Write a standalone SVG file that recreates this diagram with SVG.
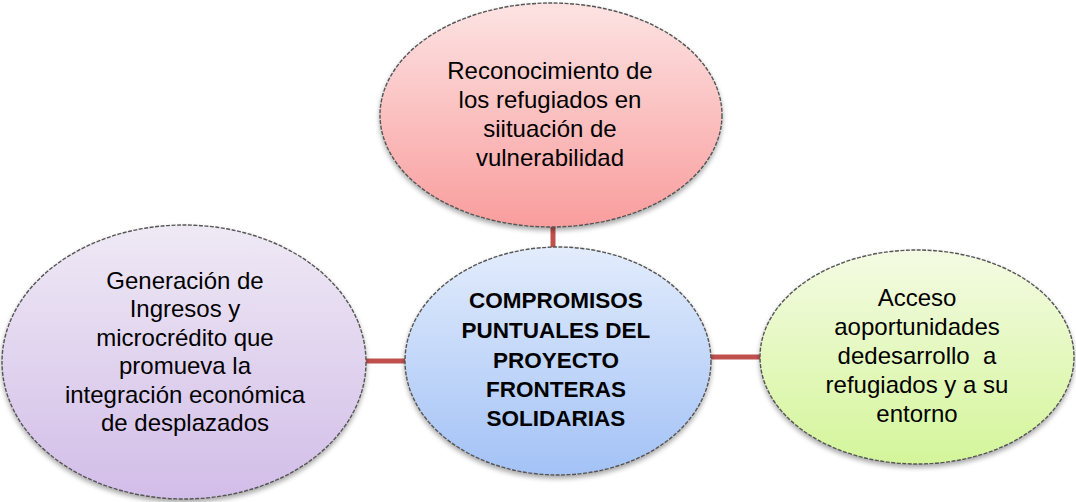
<svg xmlns="http://www.w3.org/2000/svg" width="1076" height="502" viewBox="0 0 1076 502">
<style>
.node{stroke:#555;stroke-width:1.4;stroke-dasharray:4 1.5;filter:url(#sh)}
.t{font-family:"Liberation Sans",Arial,sans-serif;font-size:24px;fill:#000;text-anchor:middle}
.b{font-family:"Liberation Sans",Arial,sans-serif;font-size:22.5px;font-weight:bold;fill:#000;text-anchor:middle}
.c{stroke:#c0504d;stroke-width:5;fill:none}
</style>
<defs>
<filter id="sh" x="-10%" y="-10%" width="120%" height="125%">
<feGaussianBlur in="SourceAlpha" stdDeviation="2.5"/>
<feOffset dy="3" result="o"/>
<feComponentTransfer><feFuncA type="linear" slope="0.35"/></feComponentTransfer>
<feMerge><feMergeNode/><feMergeNode in="SourceGraphic"/></feMerge>
</filter>
<linearGradient id="gr" x1="0" y1="0" x2="0" y2="1"><stop offset="0" stop-color="#fde3e3"/><stop offset="1" stop-color="#f99d9d"/></linearGradient>
<linearGradient id="gb" x1="0" y1="0" x2="0" y2="1"><stop offset="0" stop-color="#e2ecfc"/><stop offset="1" stop-color="#a3c2f6"/></linearGradient>
<linearGradient id="gp" x1="0" y1="0" x2="0" y2="1"><stop offset="0" stop-color="#efe9f5"/><stop offset="1" stop-color="#d2bde8"/></linearGradient>
<linearGradient id="gg" x1="0" y1="0" x2="0" y2="1"><stop offset="0" stop-color="#f4fbe3"/><stop offset="1" stop-color="#d4f59a"/></linearGradient>
</defs>
<g id="connectors">
<line class="c" x1="553" y1="226" x2="553" y2="249"/>
<line class="c" x1="366" y1="361" x2="407" y2="361"/>
<line class="c" x1="709" y1="357" x2="761" y2="357"/>
</g>
<g id="top">
<ellipse class="node" cx="551" cy="115" rx="171" ry="112" fill="url(#gr)"/>
<text class="t" x="550" y="79">Reconocimiento de</text>
<text class="t" x="550" y="108">los refugiados en</text>
<text class="t" x="550" y="137">siituación de</text>
<text class="t" x="550" y="166">vulnerabilidad</text>
</g>
<g id="left">
<ellipse class="node" cx="184" cy="362" rx="182" ry="137" fill="url(#gp)"/>
<text class="t" x="185" y="289">Generación de</text>
<text class="t" x="185" y="317">Ingresos y</text>
<text class="t" x="185" y="346">microcrédito que</text>
<text class="t" x="185" y="374">promueva la</text>
<text class="t" x="185" y="403">integración económica</text>
<text class="t" x="185" y="431">de desplazados</text>
</g>
<g id="center">
<ellipse class="node" cx="558" cy="361" rx="153" ry="114" fill="url(#gb)"/>
<text class="b" x="556" y="308">COMPROMISOS</text>
<text class="b" x="556" y="338">PUNTUALES DEL</text>
<text class="b" x="556" y="368">PROYECTO</text>
<text class="b" x="556" y="397">FRONTERAS</text>
<text class="b" x="556" y="426">SOLIDARIAS</text>
</g>
<g id="right">
<ellipse class="node" cx="917" cy="357" rx="157" ry="107" fill="url(#gg)"/>
<text class="t" x="917" y="306">Acceso</text>
<text class="t" x="917" y="335">aoportunidades</text>
<text class="t" x="917" y="364" xml:space="preserve">dedesarrollo  a</text>
<text class="t" x="917" y="393">refugiados y a su</text>
<text class="t" x="917" y="422">entorno</text>
</g>
</svg>
